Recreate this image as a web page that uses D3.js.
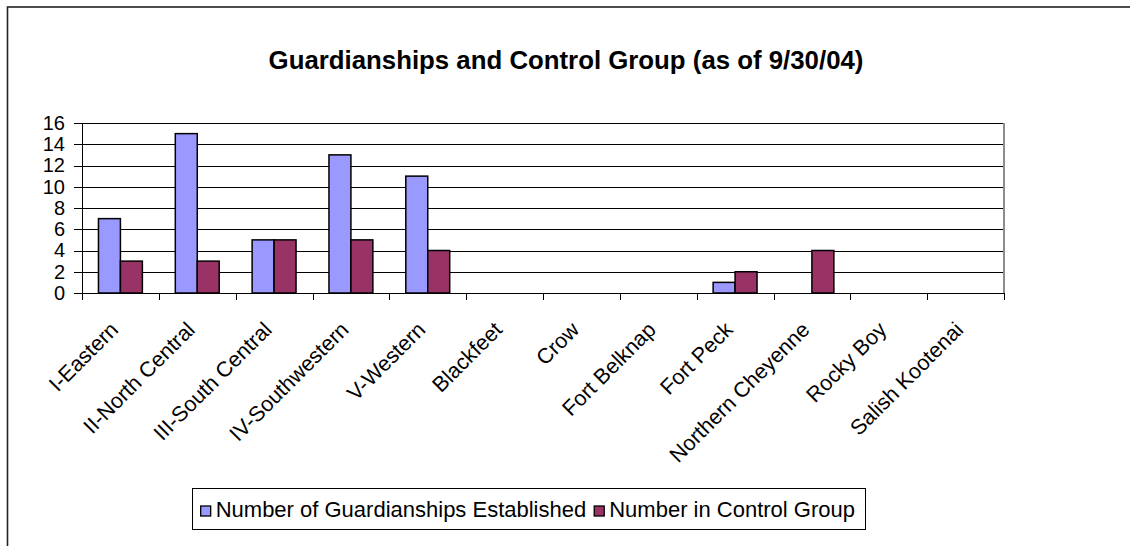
<!DOCTYPE html>
<html>
<head>
<meta charset="utf-8">
<script src="https://cdn.jsdelivr.net/npm/d3@7"></script>
<style>
  body { margin: 0; background: #fff; }
  svg { display: block; font-family: "Liberation Sans", Arial, sans-serif; }
</style>
</head>
<body>
<div id="chart-area"></div>
<script>
// data
var categories = ["I-Eastern", "II-North Central", "III-South Central", "IV-Southwestern", "V-Western",
  "Blackfeet", "Crow", "Fort Belknap", "Fort Peck", "Northern Cheyenne", "Rocky Boy", "Salish Kootenai"];
var guardianships = [7, 15, 5, 13, 11, 0, 0, 0, 1, 0, 0, 0];
var controlGroup = [3, 3, 5, 5, 4, 0, 0, 0, 2, 4, 0, 0];
var seriesNames = ["Number of Guardianships Established", "Number in Control Group"];
var seriesColors = ["#9999ff", "#993366"];
var yTicks = [0, 2, 4, 6, 8, 10, 12, 14, 16];

var W = 1130, H = 546;
var margin = { left: 82, right: 126, top: 123, bottom: 253 };
var width = W - margin.left - margin.right,
    height = H - margin.top - margin.bottom;

var svg = d3.select("#chart-area").append("svg")
  .attr("width", W).attr("height", H);

// outer frame (runs off the right and bottom edge)
svg.append("rect")
  .attr("x", 7.5).attr("y", 7)
  .attr("width", W + 20).attr("height", H + 20)
  .attr("fill", "none").attr("stroke", "#222").attr("stroke-width", 1.6);

// title
svg.append("text")
  .attr("x", 566).attr("y", 69)
  .attr("text-anchor", "middle")
  .attr("font-size", "25.8px").attr("font-weight", "bold")
  .text("Guardianships and Control Group (as of 9/30/04)");

var g = svg.append("g")
  .attr("transform", "translate(" + margin.left + "," + margin.top + ")");

var x = d3.scaleBand().domain(categories).range([0, width]);
var groupW = x.bandwidth() * 2 / 3.5;
var xs = d3.scaleBand().domain([0, 1]).range([0, groupW]);
var groupOffset = (x.bandwidth() - groupW) / 2;
var y = d3.scaleLinear().domain([0, 16]).range([height, 0]);

// gridlines, with the tick marks left of the axis
g.append("g")
  .selectAll("line")
  .data(yTicks)
  .enter().append("line")
  .attr("x1", -8).attr("x2", width)
  .attr("y1", d => Math.round(y(d)) + 0.5).attr("y2", d => Math.round(y(d)) + 0.5)
  .attr("stroke", "#000").attr("stroke-width", 1);

// right border of plot area
g.append("line")
  .attr("x1", width).attr("x2", width)
  .attr("y1", 0).attr("y2", height)
  .attr("stroke", "#8c8c8c").attr("stroke-width", 2);

// bars
var rows = categories.map((c, i) => ({ cat: c, vals: [guardianships[i], controlGroup[i]] }));
var groups = g.selectAll(".grp")
  .data(rows)
  .enter().append("g")
  .attr("class", "grp")
  .attr("transform", d => "translate(" + (x(d.cat) + groupOffset) + ",0)");

groups.selectAll("rect")
  .data(d => d.vals.map((v, k) => ({ k: k, v: v })).filter(e => e.v > 0))
  .enter().append("rect")
  .attr("x", d => xs(d.k))
  .attr("y", d => y(d.v))
  .attr("width", xs.bandwidth())
  .attr("height", d => height - y(d.v))
  .attr("fill", d => seriesColors[d.k])
  .attr("stroke", "#000").attr("stroke-width", 1.5);

// y axis
var yAxis = g.append("g")
  .call(d3.axisLeft(y).tickValues(yTicks).tickSize(8).tickPadding(9));
yAxis.selectAll("text").attr("font-size", "20px").attr("fill", "#000")
  .attr("font-family", "Liberation Sans, Arial, sans-serif");
yAxis.selectAll("line").remove();
yAxis.select(".domain").attr("d", "M0.5," + (height + 7) + "V0").attr("stroke", "#000");

// x axis
var xAxis = g.append("g")
  .attr("transform", "translate(0," + height + ")")
  .call(d3.axisBottom(x).tickSize(0).tickFormat(""));
xAxis.select(".domain").attr("d", "M0,0.5H" + width).attr("stroke", "#000");
xAxis.selectAll(".tick").remove();
xAxis.selectAll(".sep")
  .data(d3.range(categories.length + 1))
  .enter().append("line")
  .attr("x1", d => Math.round(d * x.step()) + 0.5).attr("x2", d => Math.round(d * x.step()) + 0.5)
  .attr("y1", 0).attr("y2", 7)
  .attr("stroke", "#000");

// rotated category labels
g.append("g").selectAll("text")
  .data(categories)
  .enter().append("text")
  .attr("transform", d => "translate(" + (x(d) + x.bandwidth() / 2 - 1) + "," + (height + 38) + ") rotate(-45)")
  .attr("text-anchor", "end")
  .attr("font-size", "21.5px")
  .text(d => d);

// legend, right edge at 865
var legend = svg.append("g");
var box = legend.append("rect")
  .attr("y", 488.5).attr("height", 41)
  .attr("fill", "#fff").attr("stroke", "#000");
var cursor = 0;
var items = seriesNames.map((name, i) => {
  var sw = legend.append("rect")
    .attr("y", 506).attr("width", 10).attr("height", 10)
    .attr("fill", seriesColors[i]).attr("stroke", "#000").attr("stroke-width", 1.3);
  var tx = legend.append("text")
    .attr("y", 517)
    .attr("font-size", "22px")
    .text(name);
  var item = { sw: sw, tx: tx, x: cursor };
  cursor += 10 + 5 + tx.node().getComputedTextLength() + 8;
  return item;
});
var contentW = cursor - 8;
var boxRight = 865, padL = 9, padR = 10;
var left = boxRight - padR - contentW;
box.attr("x", Math.round(left - padL) + 0.5).attr("width", Math.round(contentW + padL + padR));
items.forEach(it => {
  it.sw.attr("x", left + it.x);
  it.tx.attr("x", left + it.x + 15);
});
</script>
</body>
</html>
